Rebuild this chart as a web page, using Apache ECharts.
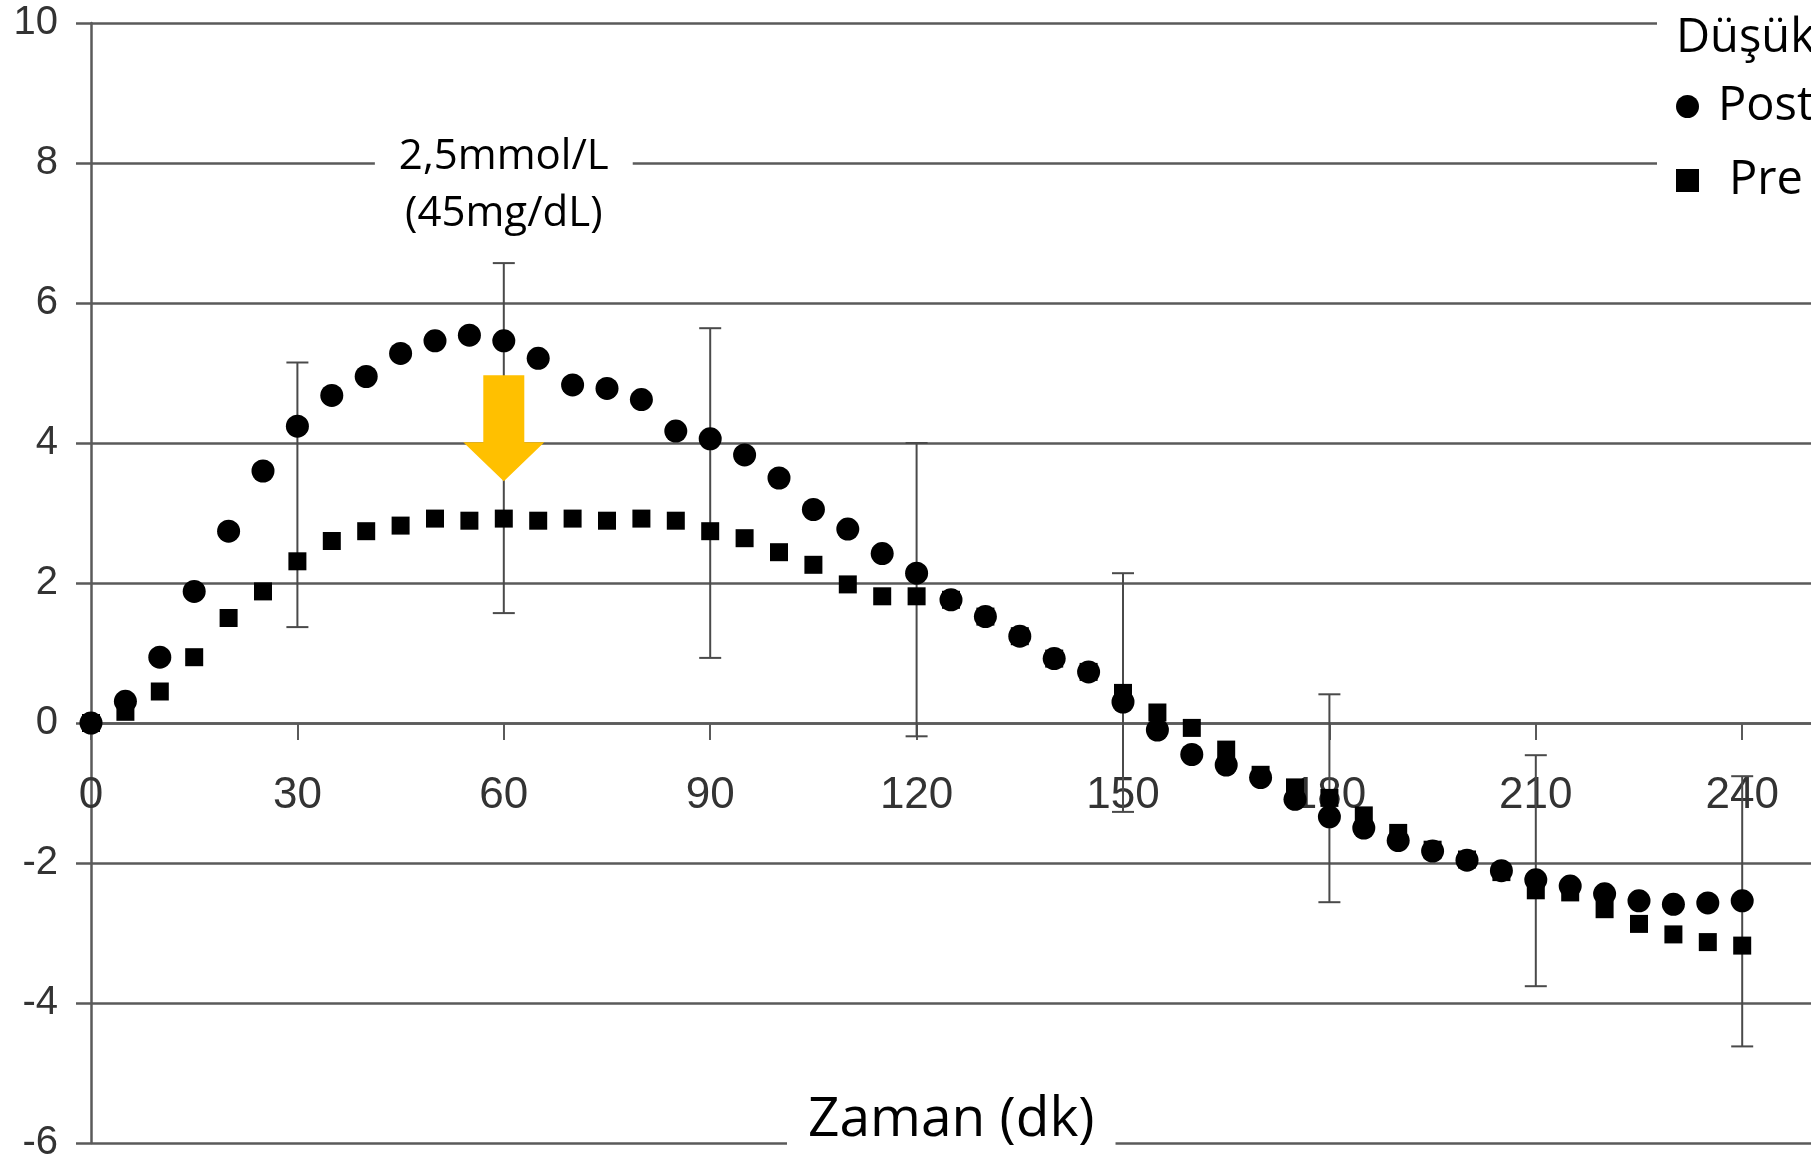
<!DOCTYPE html>
<html>
<head>
<meta charset="utf-8">
<script src="https://cdn.jsdelivr.net/npm/echarts@6.0.0/dist/echarts.min.js"></script>
<style>
html, body { margin: 0; padding: 0; background: #fff; }
#chart { width: 1811px; height: 1162px; }
</style>
</head>
<body>
<div id="chart"></div>
<script>
// ---- data ----
const times = [0, 5, 10, 15, 20, 25, 30, 35, 40, 45, 50, 55, 60, 65, 70, 75, 80, 85, 90, 95,
  100, 105, 110, 115, 120, 125, 130, 135, 140, 145, 150, 155, 160, 165, 170, 175, 180, 185, 190, 195,
  200, 205, 210, 215, 220, 225, 230, 235, 240];
const postValues = [0, 0.31, 0.94, 1.88, 2.74, 3.6, 4.24, 4.68, 4.95, 5.28, 5.46, 5.54, 5.46, 5.21, 4.83, 4.78, 4.62, 4.17, 4.06, 3.83,
  3.5, 3.05, 2.77, 2.42, 2.14, 1.76, 1.52, 1.24, 0.92, 0.73, 0.3, -0.1, -0.45, -0.6, -0.78, -1.09, -1.34, -1.5, -1.68, -1.83,
  -1.96, -2.11, -2.24, -2.33, -2.44, -2.54, -2.59, -2.57, -2.54];
const preValues = [0, 0.16, 0.45, 0.94, 1.5, 1.88, 2.31, 2.6, 2.74, 2.82, 2.92, 2.89, 2.92, 2.89, 2.92, 2.89, 2.92, 2.89, 2.74, 2.64,
  2.44, 2.26, 1.98, 1.81, 1.81, 1.76, 1.52, 1.24, 0.92, 0.73, 0.43, 0.15, -0.07, -0.38, -0.74, -0.92, -1.07, -1.32, -1.57, -1.81,
  -1.95, -2.13, -2.39, -2.42, -2.66, -2.87, -3.02, -3.13, -3.18];
const errTimes = [30, 60, 90, 120, 150, 180, 210, 240];
const errHigh = [5.15, 6.57, 5.64, 4.0, 2.14, 0.41, -0.46, -0.76];
const errLow = [1.37, 1.57, 0.93, -0.19, -1.27, -2.56, -3.76, -4.62];
const xTickLabels = [0, 30, 60, 90, 120, 150, 180, 210, 240];
const yTickLabels = [-6, -4, -2, 0, 2, 4, 6, 8, 10];
const seriesNames = ['Post', 'Pre'];
const legendHeading = 'Düşük';
const xAxisTitle = 'Zaman (dk)';
const noteLines = ['2,5mmol/L', '(45mg/dL)'];
const noteAt = [60, 7.68];
const arrowAt = [60, 4.21];

// ---- chart ----
const chart = echarts.init(document.getElementById('chart'), null, { renderer: 'canvas' });
const gridColor = '#5a5a5a';
const labelFont = 'Liberation Sans';
const textFont = 'Open Sans';
const Y_MIN = -6, Y_MAX = 10;
const GRID_TOP = 23, GRID_BOTTOM = 19;
const plotH = 1162 - GRID_TOP - GRID_BOTTOM;
// move the x axis up onto the y = 0 line
const xAxisOffset = -plotH * (0 - Y_MIN) / (Y_MAX - Y_MIN);

const option = {
  animation: false,
  backgroundColor: '#fff',
  grid: { left: 91, right: 0, top: GRID_TOP, bottom: GRID_BOTTOM, containLabel: false, outerBoundsMode: 'none' },
  title: [
    {
      text: legendHeading,
      left: 1657, top: 8,
      padding: [7, 80, 6, 19],
      backgroundColor: '#fff',
      textStyle: { fontFamily: textFont, fontSize: 47, fontWeight: 'normal', color: '#000' }
    },
    {
      text: xAxisTitle,
      left: 787, top: 1071,
      padding: [22, 21, 40, 21],
      backgroundColor: '#fff',
      textStyle: { fontFamily: textFont, fontSize: 55, fontWeight: 'normal', color: '#000' }
    }
  ],
  legend: {
    data: [
      { name: seriesNames[0], icon: 'circle', textStyle: { padding: [0, 0, 0, 14] } },
      { name: seriesNames[1], icon: 'rect', textStyle: { padding: [0, 0, 0, 25] } }
    ],
    orient: 'vertical',
    left: 1657, top: 77,
    padding: [6, 80, 8, 19],
    backgroundColor: '#fff',
    itemWidth: 23, itemHeight: 23, itemGap: 27,
    selectedMode: false,
    textStyle: { fontFamily: textFont, fontSize: 47, color: '#000' }
  },
  xAxis: {
    type: 'value',
    min: 0, max: 250, interval: 30,
    offset: xAxisOffset,
    axisLine: { show: true, onZero: false, lineStyle: { color: gridColor, width: 2.5 } },
    axisTick: { show: true, length: 17, customValues: xTickLabels, lineStyle: { color: gridColor, width: 2 } },
    axisLabel: { show: true, customValues: xTickLabels, margin: 51, fontFamily: labelFont, fontSize: 44, color: '#333' },
    splitLine: { show: false }
  },
  yAxis: {
    type: 'value',
    min: Y_MIN, max: Y_MAX, interval: 2,
    axisLine: { show: true, lineStyle: { color: gridColor, width: 2.5 } },
    axisTick: { show: true, length: 15, customValues: yTickLabels, lineStyle: { color: gridColor, width: 2.5 } },
    axisLabel: { show: true, customValues: yTickLabels, margin: 33, fontFamily: labelFont, fontSize: 40, color: '#333' },
    splitLine: { show: true, lineStyle: { color: gridColor, width: 2.5 } }
  },
  series: [
    {
      type: 'custom',
      name: 'SD',
      z: 1,
      data: errTimes.map((t, i) => [t, errLow[i], errHigh[i]]),
      encode: { x: 0, y: [1, 2] },
      renderItem: function (params, api) {
        const x = api.value(0);
        const lo = api.coord([x, api.value(1)]);
        const hi = api.coord([x, api.value(2)]);
        const w = 11;
        const st = { stroke: '#4a4a4a', lineWidth: 2 };
        return {
          type: 'group',
          children: [
            { type: 'line', shape: { x1: lo[0], y1: lo[1], x2: hi[0], y2: hi[1] }, style: st },
            { type: 'line', shape: { x1: hi[0] - w, y1: hi[1], x2: hi[0] + w, y2: hi[1] }, style: st },
            { type: 'line', shape: { x1: lo[0] - w, y1: lo[1], x2: lo[0] + w, y2: lo[1] }, style: st }
          ]
        };
      }
    },
    {
      type: 'scatter',
      name: seriesNames[1],
      z: 3,
      symbol: 'rect',
      symbolSize: 18,
      itemStyle: { color: '#000', opacity: 1 },
      data: times.map((t, i) => [t, preValues[i]]),
      markPoint: {
        silent: true,
        animation: false,
        data: [
          {
            coord: arrowAt,
            symbol: 'path://M20,0L61,0L61,67L81,67L40.5,106L0,67L20,67Z',
            symbolSize: [81, 106],
            symbolKeepAspect: false,
            itemStyle: { color: '#FFC000', opacity: 1 },
            label: { show: false }
          },
          {
            coord: noteAt,
            symbol: 'rect',
            symbolSize: 1,
            itemStyle: { color: 'rgba(0,0,0,0)' },
            label: {
              show: true,
              position: 'inside',
              formatter: noteLines.join('\n'),
              fontFamily: textFont,
              fontSize: 42,
              lineHeight: 57,
              color: '#000',
              backgroundColor: '#fff',
              padding: [8, 24, 8, 24]
            }
          }
        ]
      }
    },
    {
      type: 'scatter',
      name: seriesNames[0],
      z: 4,
      symbol: 'circle',
      symbolSize: 23,
      itemStyle: { color: '#000', opacity: 1 },
      data: times.map((t, i) => [t, postValues[i]])
    }
  ]
};
chart.setOption(option);
</script>
</body>
</html>
